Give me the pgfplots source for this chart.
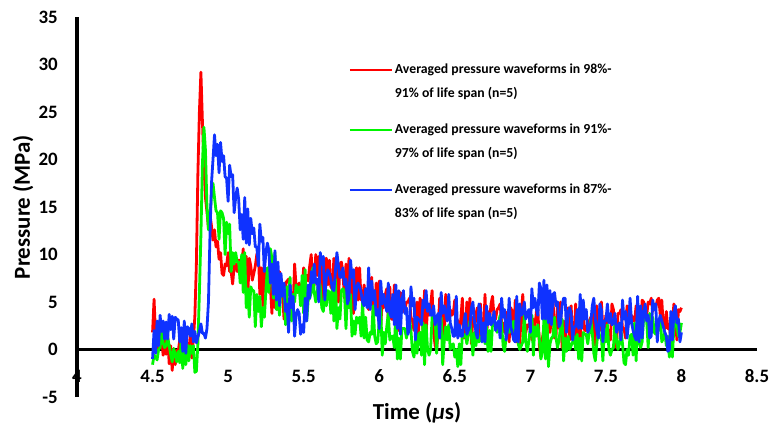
\documentclass[border=0pt]{standalone}
\usepackage{fontspec}
\setmainfont{Carlito}
\usepackage{pgfplots}
\usepackage{pgfplotstable}
\pgfplotsset{compat=1.18}

\definecolor{wred}{RGB}{255,0,0}
\definecolor{wgreen}{RGB}{0,245,0}
\definecolor{wblue}{RGB}{15,50,255}

% time (us), pressure (MPa): r = 98%-91%, g = 91%-97%, b = 87%-83% of life span
\pgfplotstableread{
x r g b
4.50 1.8 -1.6 -1.0
4.51 5.3 -0.6 2.0
4.52 1.4 -0.8 -0.4
4.53 -0.3 -1.1 3.0
4.54 2.3 0.0 0.4
4.55 1.9 0.2 3.6
4.56 1.2 2.0 1.9
4.57 -0.6 0.7 3.0
4.58 1.2 0.2 1.1
4.59 -0.5 0.4 2.9
4.60 1.4 1.3 1.1
4.61 -1.5 0.4 3.7
4.62 0.4 -0.5 2.1
4.63 -2.2 -1.3 3.5
4.64 0.1 0.1 1.1
4.65 -1.6 -0.5 3.4
4.66 -0.1 -1.3 3.2
4.67 -0.2 -0.2 3.1
4.68 1.0 -1.4 0.8
4.69 1.9 1.1 2.3
4.70 1.3 -2.0 -0.2
4.71 1.8 1.3 3.0
4.72 -0.1 -1.6 -0.4
4.73 0.7 0.5 2.4
4.74 -0.7 -1.2 2.2
4.75 1.8 0.4 1.4
4.76 -0.9 -0.4 2.7
4.77 1.0 0.4 0.8
4.78 3.5 -2.4 1.9
4.79 9.0 -2.3 0.7
4.80 18.5 0.6 1.3
4.81 25.0 6.0 1.9
4.82 29.2 12.0 2.7
4.83 24.0 19.5 1.7
4.84 19.5 23.4 1.7
4.85 16.0 21.0 1.2
4.86 14.5 15.0 2.2
4.87 12.8 12.6 5.0
4.88 14.2 14.0 12.0
4.89 13.0 16.2 17.5
4.90 11.5 17.5 20.0
4.91 12.6 16.0 22.6
4.92 10.8 14.6 20.4
4.93 11.4 14.4 21.6
4.94 9.5 11.6 18.6
4.95 10.2 14.6 21.8
4.96 8.0 14.4 19.8
4.97 7.8 13.8 20.4
4.98 9.0 10.0 18.2
4.99 8.8 13.4 18.0
5.00 10.2 12.2 15.6
5.01 8.2 13.2 19.4
5.02 8.2 8.2 18.2
5.03 6.9 10.2 18.4
5.04 8.8 9.0 14.4
5.05 9.0 10.2 16.0
5.06 8.2 9.2 17.0
5.07 9.4 9.2 15.8
5.08 9.4 7.0 12.6
5.09 8.8 10.0 14.2
5.10 10.6 6.0 11.6
5.11 7.0 10.2 16.0
5.12 9.8 4.4 11.2
5.13 5.6 6.4 14.8
5.14 9.6 3.4 11.0
5.15 8.8 6.6 13.8
5.16 7.3 6.2 12.2
5.17 8.0 6.2 12.8
5.18 8.8 2.4 10.8
5.19 10.0 5.8 10.8
5.20 10.4 4.0 8.8
5.21 5.8 5.6 13.2
5.22 8.6 2.4 11.4
5.23 4.6 4.4 11.8
5.24 9.0 3.4 8.2
5.25 6.8 6.2 10.2
5.26 6.4 8.6 11.2
5.27 7.2 6.0 10.4
5.28 6.6 10.6 7.0
5.29 3.8 9.6 9.0
5.30 8.4 5.4 5.8
5.31 4.4 10.2 10.4
5.32 8.0 4.2 5.2
5.33 4.2 6.2 9.2
5.34 8.2 3.6 4.6
5.35 7.4 6.8 8.0
5.36 6.0 6.6 5.6
5.37 3.2 6.6 7.0
5.38 7.0 2.6 4.0
5.39 7.2 6.6 4.8
5.40 7.4 5.8 1.8
5.41 5.4 7.6 6.8
5.42 5.2 3.0 4.4
5.43 4.4 5.8 5.6
5.44 9.0 5.0 1.4
5.45 6.6 6.8 3.6
5.46 6.0 6.0 4.2
5.47 7.0 6.6 3.8
5.48 6.4 4.6 1.6
5.49 6.4 7.8 2.6
5.50 8.6 3.8 1.8
5.51 7.4 8.4 5.4
5.52 7.8 3.0 3.0
5.53 7.2 5.2 6.8
5.54 8.8 5.4 5.4
5.55 10.0 6.0 8.2
5.56 6.6 8.6 7.0
5.57 6.8 6.0 9.0
5.58 10.0 5.0 7.0
5.59 7.8 6.0 7.4
5.60 9.8 7.4 5.0
5.61 6.2 6.6 10.2
5.62 9.0 4.4 9.0
5.63 5.0 4.0 9.8
5.64 9.4 5.6 5.2
5.65 9.6 4.6 7.6
5.66 6.8 6.2 8.4
5.67 9.4 6.0 8.0
5.68 6.6 3.8 7.4
5.69 6.4 7.0 6.4
5.70 9.6 3.0 6.2
5.71 6.2 7.4 8.2
5.72 8.8 2.2 10.2
5.73 5.0 4.4 8.8
5.74 9.0 3.2 7.6
5.75 9.2 6.2 7.6
5.76 8.0 6.4 8.6
5.77 5.4 6.0 6.8
5.78 9.0 2.2 7.4
5.79 6.4 5.8 4.8
5.80 9.6 4.4 5.4
5.81 5.0 5.8 9.4
5.82 7.6 1.4 7.6
5.83 3.8 3.0 8.4
5.84 8.2 1.6 4.2
5.85 8.6 3.4 6.4
5.86 5.2 2.8 7.0
5.87 8.6 3.4 6.6
5.88 5.2 1.4 6.0
5.89 5.2 5.0 5.0
5.90 6.8 1.2 4.6
5.91 5.2 3.4 6.4
5.92 5.2 1.0 4.4
5.93 4.2 0.8 8.6
5.94 5.4 1.8 4.2
5.95 7.6 1.6 7.2
5.96 3.6 4.6 5.2
5.97 3.8 1.4 6.2
5.98 7.0 0.6 3.6
5.99 4.4 0.8 4.2
6.00 7.2 3.0 2.2
6.01 2.4 4.4 7.2
6.02 5.2 -0.6 4.8
6.03 4.4 1.8 5.8
6.04 5.8 0.6 4.8
6.05 6.4 2.4 4.0
6.06 3.0 3.8 7.0
6.07 6.6 1.0 3.8
6.08 3.2 1.4 3.4
6.09 3.2 1.4 5.8
6.10 6.8 0.2 2.6
6.11 3.2 4.0 6.8
6.12 6.0 -1.0 2.2
6.13 2.0 1.2 6.2
6.14 6.0 -1.0 1.6
6.15 5.4 2.2 5.0
6.16 4.0 2.2 6.2
6.17 4.2 2.2 3.8
6.18 5.0 1.2 4.4
6.19 5.0 2.0 1.6
6.20 5.4 3.4 2.2
6.21 3.4 2.0 6.6
6.22 3.0 -0.2 4.6
6.23 2.0 -0.8 5.4
6.24 4.2 1.0 1.0
6.25 5.0 -0.4 3.4
6.26 1.6 1.6 3.2
6.27 5.4 1.8 3.0
6.28 4.8 -0.6 2.6
6.29 1.8 2.8 5.2
6.30 6.2 -1.6 4.4
6.31 1.6 2.6 6.2
6.32 4.4 0.0 4.0
6.33 3.6 -0.6 4.8
6.34 4.6 0.0 3.6
6.35 6.2 3.4 3.6
6.36 1.8 3.4 4.6
6.37 0.4 3.4 2.6
6.38 0.0 -0.4 3.4
6.39 2.0 3.6 3.8
6.40 5.4 2.0 1.2
6.41 1.2 3.4 6.0
6.42 4.4 -1.6 3.8
6.43 1.0 0.8 4.6
6.44 5.8 2.4 3.8
6.45 4.0 1.0 3.0
6.46 3.6 2.6 5.8
6.47 4.2 0.0 2.8
6.48 3.6 0.4 2.2
6.49 3.8 0.6 1.4
6.50 5.2 -0.8 1.4
6.51 3.2 0.0 5.6
6.52 3.0 -1.8 1.2
6.53 2.0 0.6 2.6
6.54 3.2 -1.6 1.4
6.55 5.4 1.6 1.4
6.56 1.2 1.4 2.8
6.57 1.4 1.6 3.8
6.58 5.0 0.6 1.6
6.59 2.2 1.6 2.0
6.60 5.4 3.0 2.4
6.61 0.6 1.4 4.4
6.62 3.4 -0.6 5.0
6.63 2.4 1.8 3.0
6.64 3.8 0.4 1.8
6.65 4.4 2.0 1.2
6.66 1.2 0.8 4.8
6.67 4.8 1.0 4.2
6.68 1.4 1.4 0.8
6.69 1.4 2.0 2.8
6.70 5.8 0.6 0.8
6.71 1.2 2.4 4.6
6.72 4.0 -0.2 2.6
6.73 3.0 2.0 3.8
6.74 4.8 -0.2 2.6
6.75 5.6 2.8 3.0
6.76 3.4 2.8 4.0
6.77 3.2 2.8 2.0
6.78 4.2 1.8 2.6
6.79 4.4 2.8 3.0
6.80 4.8 3.6 1.2
6.81 2.8 2.6 5.4
6.82 2.8 0.4 3.4
6.83 1.8 -0.2 4.2
6.84 3.4 1.4 1.0
6.85 4.0 3.0 2.2
6.86 0.8 1.8 5.4
6.87 4.4 2.0 2.4
6.88 4.0 2.4 1.8
6.89 1.0 3.0 1.0
6.90 5.2 1.4 0.8
6.91 0.8 3.2 5.6
6.92 3.6 0.6 0.8
6.93 0.6 0.0 4.8
6.94 3.8 0.4 3.6
6.95 5.8 0.8 3.8
6.96 1.6 3.6 5.0
6.97 1.8 0.8 3.2
6.98 2.6 -0.2 3.8
6.99 2.4 0.8 4.2
7.00 3.0 2.4 1.8
7.01 1.0 3.6 6.4
7.02 3.2 -0.6 4.4
7.03 2.2 2.4 5.4
7.04 4.0 1.4 4.2
7.05 4.2 2.6 3.6
7.06 0.4 1.0 7.0
7.07 -0.8 -1.0 6.4
7.08 1.2 -0.2 3.2
7.09 2.2 3.2 7.3
7.10 4.2 -1.0 3.2
7.11 2.8 3.6 6.8
7.12 3.2 -1.8 2.8
7.13 1.8 0.6 6.2
7.14 3.2 1.2 2.6
7.15 5.4 1.4 5.8
7.16 1.2 3.4 6.0
7.17 1.4 1.2 4.6
7.18 5.0 0.2 5.0
7.19 2.2 1.0 2.4
7.20 5.0 2.4 2.8
7.21 0.2 3.2 4.6
7.22 3.0 -1.2 5.4
7.23 0.4 1.2 5.4
7.24 3.8 -0.2 1.8
7.25 4.4 1.4 3.8
7.26 1.0 0.0 4.4
7.27 4.6 0.4 3.8
7.28 1.2 0.8 1.0
7.29 1.2 1.4 2.4
7.30 4.8 0.0 2.4
7.31 1.0 1.6 4.2
7.32 3.6 -1.0 2.2
7.33 0.8 1.2 5.8
7.34 4.0 -1.2 2.2
7.35 3.4 1.8 5.2
7.36 2.0 1.6 3.2
7.37 2.0 1.6 4.2
7.38 2.8 0.6 1.8
7.39 3.0 1.8 2.2
7.40 3.4 3.2 2.8
7.41 1.4 1.8 4.6
7.42 4.2 -0.4 5.4
7.43 0.4 -1.2 3.2
7.44 4.6 0.6 2.0
7.45 2.4 2.4 1.2
7.46 2.0 1.2 4.8
7.47 5.0 1.4 4.2
7.48 2.2 -1.2 0.8
7.49 2.0 2.2 3.0
7.50 3.6 0.8 3.0
7.51 2.0 2.6 4.8
7.52 2.0 0.0 2.8
7.53 1.0 -0.6 3.8
7.54 4.8 0.0 2.6
7.55 4.2 0.2 2.8
7.56 2.8 3.0 3.8
7.57 0.2 1.0 1.8
7.58 3.8 0.0 2.4
7.59 3.8 0.6 2.8
7.60 4.2 2.0 1.0
7.61 2.2 0.6 5.2
7.62 2.2 -1.4 3.2
7.63 1.2 -1.6 4.0
7.64 4.6 0.0 1.2
7.65 3.4 -0.6 2.8
7.66 2.8 1.4 5.4
7.67 3.6 1.6 2.8
7.68 3.0 -0.6 2.0
7.69 3.0 2.8 1.4
7.70 4.6 -1.2 1.0
7.71 2.8 3.4 5.6
7.72 3.0 0.8 0.8
7.73 1.8 0.2 4.6
7.74 5.2 0.8 1.2
7.75 5.0 3.4 3.8
7.76 4.0 3.4 4.8
7.77 3.6 3.0 3.0
7.78 5.0 0.2 3.6
7.79 4.8 3.8 1.2
7.80 5.4 2.6 1.4
7.81 4.0 3.4 5.2
7.82 4.6 1.8 4.2
7.83 4.4 1.6 4.8
7.84 5.2 3.0 0.8
7.85 5.4 2.0 3.0
7.86 3.6 3.4 3.6
7.87 5.2 0.8 3.0
7.88 2.4 1.2 2.4
7.89 2.2 1.8 1.8
7.90 4.0 0.4 1.4
7.91 2.2 1.4 -0.2
7.92 2.4 -0.8 0.0
7.93 1.2 1.4 4.0
7.94 2.6 -0.8 1.0
7.95 4.8 2.4 3.8
7.96 3.2 3.6 4.6
7.97 1.0 2.4 2.8
7.98 4.2 1.4 3.2
7.99 4.0 1.8 0.8
8.00 4.4 2.8 1.8
}\wave

\begin{document}
\begin{tikzpicture}
\useasboundingbox (-77bp,-33bp) rectangle (696bp,397bp);
\begin{axis}[
  at={(0,0)}, anchor=south west,
  scale only axis, width=680bp, height=380bp,
  xmin=4, xmax=8.5, ymin=-5, ymax=35,
  axis x line=middle, axis y line=left,
  hide obscured x ticks=false, hide obscured y ticks=false,
  axis line style={-, line width=3.6bp, black},
  major tick length=0pt,
  xtick={4,4.5,...,8.5},
  xticklabels={4,4.5,5,5.5,6,6.5,7,7.5,8,8.5},
  ytick={-5,0,...,35},
  yticklabels={-5,0,5,10,15,20,25,30,35},
  ticklabel style={font=\fontsize{19}{21}\selectfont\bfseries},
  xticklabel style={anchor=center, yshift=-27bp},
  yticklabel style={anchor=east, inner sep=0pt, xshift=-19bp},
  xlabel={Time ({\itshape μ}s)},
  ylabel={Pressure (MPa)},
  label style={font=\fontsize{23}{26}\selectfont\bfseries},
  xlabel style={at={(axis description cs:0.5,-0.042)}, anchor=center},
  ylabel style={at={(axis description cs:-0.0794,0.5)}, anchor=center},
  clip=false,
  legend cell align=left,
  legend style={
    at={(axis description cs:0.3947,0.887)}, anchor=north west,
    draw=none, fill=none,
    font=\fontsize{13.8}{24}\selectfont\bfseries,
    cells={align=left},
    row sep=21bp,
  },
  legend image code/.code={
    \path (0bp,-12bp) (0bp,12bp);
    \draw[#1, line width=2bp] (0bp,12bp) -- (42bp,12bp);
  },
]
\addplot[wred, line width=2.8bp, line join=round] table[x=x, y=r] {\wave};
\addlegendentry{Averaged pressure waveforms in 98\%-\\91\% of life span (n=5)}
\addplot[wgreen, line width=2.8bp, line join=round] table[x=x, y=g] {\wave};
\addlegendentry{Averaged pressure waveforms in 91\%-\\97\% of life span (n=5)}
\addplot[wblue, line width=2.8bp, line join=round] table[x=x, y=b] {\wave};
\addlegendentry{Averaged pressure waveforms in 87\%-\\83\% of life span (n=5)}
\end{axis}
\end{tikzpicture}
\end{document}
